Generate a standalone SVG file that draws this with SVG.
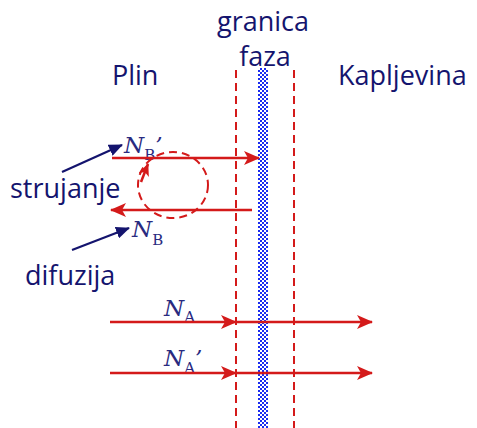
<svg xmlns="http://www.w3.org/2000/svg" width="477" height="428" viewBox="0 0 477 428">
<style>
.lbl{font-family:"Open Sans","Noto Sans",sans-serif;font-size:27px;fill:#14146e}
.n{font-family:"DejaVu Serif",serif;font-style:italic;font-size:23px;fill:#2a2a80}
.sub{font-family:"DejaVu Serif",serif;font-style:normal;font-size:15px}
.red{stroke:#d41a1a;stroke-width:2.5;fill:none}
.dash{stroke:#d41a1a;stroke-width:2;fill:none;stroke-dasharray:8,5}
.nav{stroke:#14146e;stroke-width:2.2;fill:none}
</style>
<defs>
<pattern id="chk" width="4" height="4" patternUnits="userSpaceOnUse">
<rect width="4" height="4" fill="#ffffff"/>
<rect width="2" height="2" fill="#1a2cf0"/>
<rect x="2" y="2" width="2" height="2" fill="#1a2cf0"/>
</pattern>
<marker id="ar" viewBox="0 0 16 14" refX="15" refY="7" markerWidth="16" markerHeight="14" markerUnits="userSpaceOnUse" orient="auto">
<path d="M0,0 L16,7 L0,14 L4,7 Z" fill="#d41a1a"/>
</marker>
<marker id="arS" viewBox="0 0 16 14" refX="15" refY="7" markerWidth="13" markerHeight="11" markerUnits="userSpaceOnUse" orient="auto">
<path d="M0,0 L16,7 L0,14 L4,7 Z" fill="#d41a1a"/>
</marker>
<marker id="an" viewBox="0 0 14 12" refX="13" refY="6" markerWidth="14" markerHeight="12" markerUnits="userSpaceOnUse" orient="auto">
<path d="M0,0 L14,6 L0,12 Z" fill="#14146e"/>
</marker>
</defs>
<g id="interface">
<rect x="258" y="68" width="10" height="360" fill="url(#chk)"/>
<line class="dash" x1="236" y1="70" x2="236" y2="428"/>
<line class="dash" x1="294" y1="70" x2="294" y2="428"/>
</g>
<g id="labels">
<text class="lbl" x="112" y="85">Plin</text>
<text class="lbl" x="263" y="31" text-anchor="middle">granica</text>
<text class="lbl" x="265" y="66" text-anchor="middle">faza</text>
<text class="lbl" x="338" y="85">Kapljevina</text>
<text class="lbl" x="10" y="198">strujanje</text>
<text class="lbl" x="25" y="285">difuzija</text>
</g>
<g id="flux-labels">
<text class="n" x="124" y="153">N<tspan class="sub" dy="7">B</tspan><tspan dy="-7">’</tspan></text>
<text class="n" x="132" y="237">N<tspan class="sub" dy="8">B</tspan></text>
<text class="n" x="164" y="316">N<tspan class="sub" dy="6">A</tspan></text>
<text class="n" x="164" y="366">N<tspan class="sub" dy="7">A</tspan><tspan dy="-7">’</tspan></text>
</g>
<g id="connectors">
<line class="red" x1="112" y1="158" x2="259" y2="158" marker-end="url(#ar)"/>
<line class="red" x1="252" y1="210" x2="111" y2="210" marker-end="url(#ar)"/>
<ellipse class="dash" cx="173" cy="185" rx="35" ry="33" stroke-dasharray="8,5"/>
<path class="red" d="M141,182 L148,164" marker-end="url(#arS)"/>
<line class="red" x1="110" y1="322" x2="236" y2="322" marker-end="url(#ar)"/>
<line class="red" x1="236" y1="322" x2="372" y2="322" marker-end="url(#ar)"/>
<line class="red" x1="110" y1="373" x2="236" y2="373" marker-end="url(#ar)"/>
<line class="red" x1="236" y1="373" x2="372" y2="373" marker-end="url(#ar)"/>
<line class="nav" x1="62" y1="172" x2="122" y2="145" marker-end="url(#an)"/>
<line class="nav" x1="72" y1="250" x2="129" y2="228" marker-end="url(#an)"/>
</g>
</svg>
